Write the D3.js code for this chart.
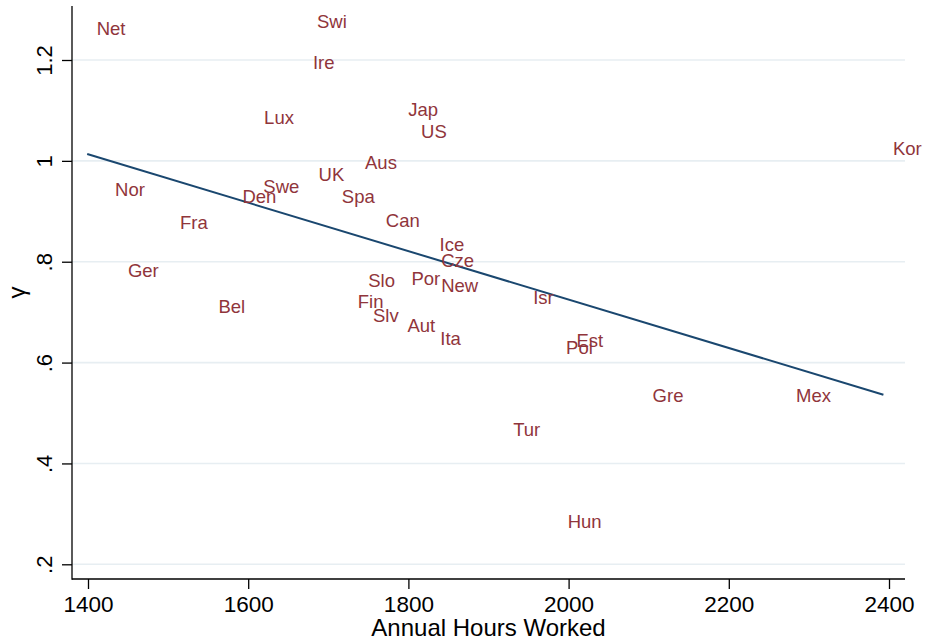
<!DOCTYPE html>
<html>
<head>
<meta charset="utf-8">
<script src="https://cdn.jsdelivr.net/npm/d3@7"></script>
<style>
  html, body { margin: 0; padding: 0; background: #fff; }
  svg { display: block; font-family: "Liberation Sans", Arial, Helvetica, sans-serif; }
</style>
</head>
<body>
<svg id="chart" width="926" height="644"></svg>
<script>
// Country labels, annual hours worked and estimated gamma
const countries = ["Net","Swi","Ire","Lux","Jap","US","Aus","Kor","UK","Nor","Swe","Den","Spa","Fra","Can",
  "Ice","Cze","Ger","Slo","Por","New","Isr","Fin","Bel","Slv","Aut","Ita","Est","Pol","Gre","Mex","Tur","Hun"];
const hours = [1399,1674,1669,1608,1788,1804,1734,2393,1676,1422,1607,1581,1705,1503,1760,
  1827,1829,1438,1738,1792,1829,1944,1725,1551,1744,1787,1828,1998,1985,2093,2272,1919,1987];
const gamma = [1.263,1.276,1.196,1.086,1.103,1.059,0.998,1.024,0.974,0.943,0.950,0.929,0.930,0.879,0.882,
  0.834,0.802,0.783,0.764,0.768,0.754,0.730,0.722,0.712,0.694,0.674,0.649,0.645,0.631,0.535,0.535,0.467,0.286];

// Linear fit of gamma on hours
const fitIntercept = 1.685;
const fitSlope = -0.00048;

const xTicks = [1400, 1600, 1800, 2000, 2200, 2400];
const yTicks = [0.2, 0.4, 0.6, 0.8, 1.0, 1.2];
const yTickLabels = [".2", ".4", ".6", ".8", "1", "1.2"];

const xTitle = "Annual Hours Worked";
const yTitle = "γ";

const data = countries.map((c, i) => ({ name: c, x: hours[i], y: gamma[i] }));

const svg = d3.select("#chart");
const plot = { left: 72, right: 905, top: 6, bottom: 579 };

const x = d3.scaleLinear().domain([1400, 2400]).range([88, 889]);
const y = d3.scaleLinear().domain([0.2, 1.2]).range([564.3, 60]);

const labelColor = "#90353b";
const lineColor = "#1a476f";

svg.append("rect").attr("width", 926).attr("height", 644).attr("fill", "#fff");

// Horizontal grid lines
svg.append("g").selectAll("line").data(yTicks).join("line")
  .attr("x1", plot.left).attr("x2", plot.right)
  .attr("y1", d => y(d)).attr("y2", d => y(d))
  .attr("stroke", "#e7eef2").attr("stroke-width", 1.6);

// Y axis
const yAxis = d3.axisLeft(y).tickValues(yTicks)
  .tickFormat((d, i) => yTickLabels[i]).tickSize(10).tickPadding(10);
const gy = svg.append("g").attr("transform", `translate(${plot.left},0)`).call(yAxis);
gy.select(".domain").remove();
gy.append("line").attr("x1", 0).attr("x2", 0).attr("y1", plot.top).attr("y2", plot.bottom + 0.7)
  .attr("stroke", "#000").attr("stroke-width", 1.3);
gy.selectAll(".tick line").attr("stroke", "#000").attr("stroke-width", 1.3);
gy.selectAll(".tick text")
  .attr("x", null).attr("dy", null)
  .attr("font-size", 22).attr("fill", "#000")
  .attr("text-anchor", "middle")
  .attr("transform", "translate(-20,0) rotate(-90)");

// X axis
const xAxis = d3.axisBottom(x).tickValues(xTicks).tickFormat(d3.format("d")).tickSize(10).tickPadding(7);
const gx = svg.append("g").attr("transform", `translate(0,${plot.bottom})`).call(xAxis);
gx.select(".domain").remove();
gx.append("line").attr("x1", plot.left).attr("x2", plot.right).attr("y1", 0).attr("y2", 0)
  .attr("stroke", "#000").attr("stroke-width", 1.3);
gx.selectAll(".tick line").attr("stroke", "#000").attr("stroke-width", 1.3);
gx.selectAll(".tick text").attr("font-size", 22.5).attr("fill", "#000");

// Axis titles
svg.append("text")
  .attr("x", (plot.left + plot.right) / 2).attr("y", 636)
  .attr("text-anchor", "middle").attr("font-size", 24).attr("fill", "#000")
  .text(xTitle);
svg.append("text")
  .attr("transform", `translate(25,${(plot.top + plot.bottom) / 2}) rotate(-90)`)
  .attr("text-anchor", "middle").attr("font-size", 24).attr("fill", "#000")
  .text(yTitle);

// Fitted line across the observed range of hours
const xExt = d3.extent(hours);
const fitPts = xExt.map(h => [h, fitIntercept + fitSlope * h]);
svg.append("path")
  .datum(fitPts)
  .attr("d", d3.line().x(d => x(d[0])).y(d => y(d[1])))
  .attr("fill", "none").attr("stroke", lineColor).attr("stroke-width", 2);

// Country labels placed to the right of each observation
svg.append("g").selectAll("text").data(data).join("text")
  .attr("x", d => x(d.x) + 9.5)
  .attr("y", d => y(d.y))
  .attr("dy", "0.36em")
  .attr("font-size", 18.5).attr("fill", labelColor)
  .text(d => d.name);
</script>
</body>
</html>
